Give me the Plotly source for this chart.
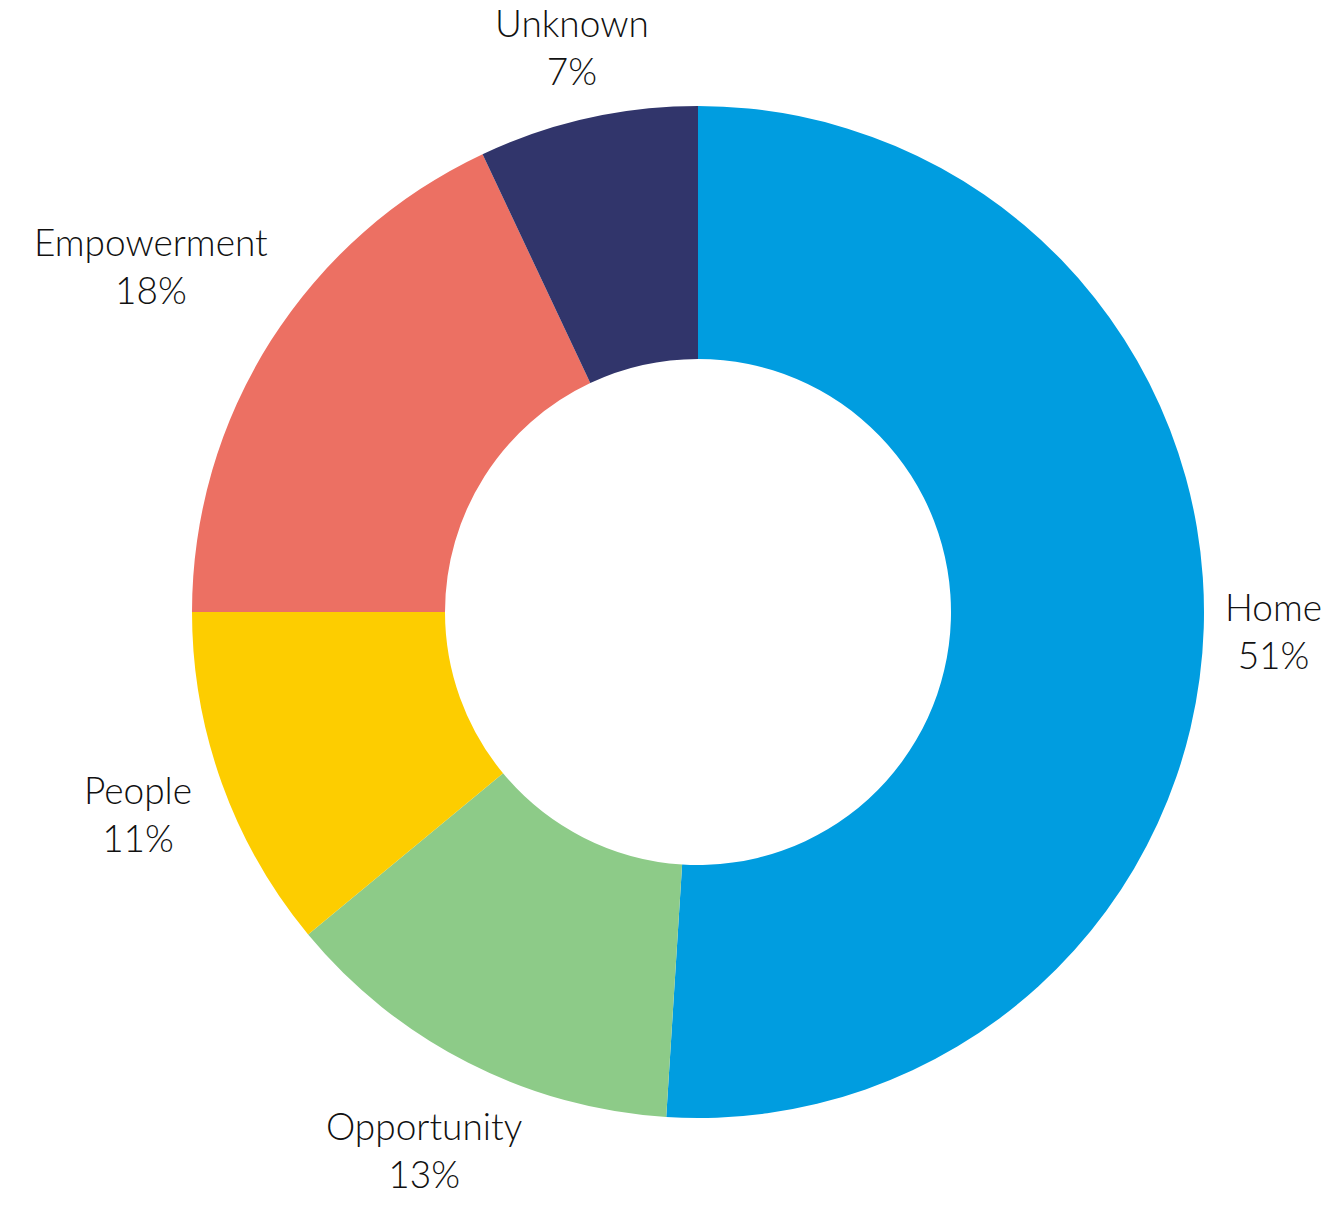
import math
import plotly.graph_objects as go

categories = ["Home", "Opportunity", "People", "Empowerment", "Unknown"]
values = [51, 13, 11, 18, 7]
colors = ["#009DE0", "#8DCB88", "#FDCD00", "#EC7063", "#31356B"]

W, H = 1332, 1206
CX, CY, R = 698, 612, 506  # pie centre / radius in px (layout)
FONT = "Lato"
FS = 37


def text_width(s):
    """Rough width estimate in px for label placement."""
    wsum = 0
    for ch in s:
        if ch in "iltrfj1":
            wsum += 0.32
        elif ch in "mwMW%":
            wsum += 0.8
        elif ch.isupper():
            wsum += 0.65
        else:
            wsum += 0.55
    return wsum * FS


fig = go.Figure(go.Pie(
    labels=categories,
    values=values,
    marker=dict(colors=colors, line=dict(width=0)),
    hole=0.5,
    sort=False,
    direction="clockwise",
    rotation=0,
    textinfo="none",
    hoverinfo="label+percent",
    showlegend=False,
    domain=dict(x=[(CX - R) / W, (CX + R) / W],
                y=[(H - CY - R) / H, (H - CY + R) / H]),
))

total = sum(values)
cum = 0
annotations = []
base = 528
box_h = 70
for name, v in zip(categories, values):
    mid = (cum + v / 2) / total * 2 * math.pi
    cum += v
    dx, dy = math.sin(mid), -math.cos(mid)
    pct = f"{round(v / total * 100)}%"
    w = max(text_width(name), text_width(pct))
    r = base + abs(dx) * w / 2 + abs(dy) * box_h / 2
    px, py = CX + r * dx, CY + r * dy
    annotations.append(dict(
        x=px / W, y=1 - py / H, xref="paper", yref="paper",
        text=f"{name}<br>{pct}", showarrow=False,
        xanchor="center", yanchor="middle", align="center",
        font=dict(family=FONT, size=FS, color="#111111", weight=300),
    ))

fig.update_layout(
    width=W, height=H,
    margin=dict(l=0, r=0, t=0, b=0),
    paper_bgcolor="white", plot_bgcolor="white",
    annotations=annotations,
)

fig.write_html("out.html")
